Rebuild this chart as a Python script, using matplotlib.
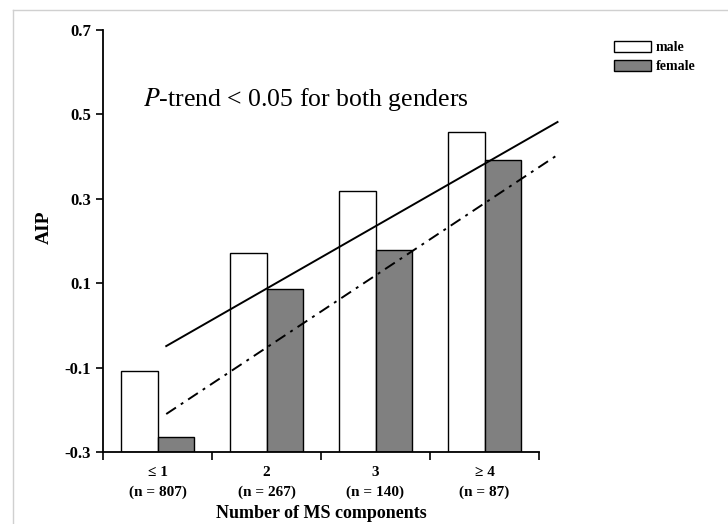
import numpy as np
import matplotlib.pyplot as plt
from matplotlib.lines import Line2D

# data
categories = ['\u2264 1\n(n = 807)', '2\n(n = 267)', '3\n(n = 140)', '\u2265 4\n(n = 87)']
male = [-0.108, 0.172, 0.318, 0.458]
female = [-0.265, 0.086, 0.179, 0.392]
# trend lines: x in category units, y in AIP
trend_x = [0.08, 3.67]
trend_male = [-0.049, 0.482]
trend_female = [-0.210, 0.404]
yticks = [-0.3, -0.1, 0.1, 0.3, 0.5, 0.7]

plt.rcParams['font.family'] = ['Liberation Serif', 'DejaVu Serif']

fig = plt.figure(figsize=(7.28, 5.24), dpi=100)
ax = fig.add_axes([103/728, 1-452/524, 436/728, 422/524])

x = np.arange(len(categories))
w = 0.335
ax.bar(x - w/2, [v + 0.3 for v in male], w, bottom=-0.3, color='white',
       edgecolor='black', linewidth=1.0, label='male')
ax.bar(x + w/2, [v + 0.3 for v in female], w, bottom=-0.3, color='#808080',
       edgecolor='black', linewidth=1.0, label='female')

ax.plot(trend_x, trend_male, color='black', lw=1.4, clip_on=False)
ax.plot(trend_x, trend_female, color='black', lw=1.4, linestyle=(0, (6, 3, 1.5, 3)),
        clip_on=False)

ax.set_xlim(-0.5, 3.5)
ax.set_ylim(-0.3, 0.7)
ax.set_yticks(yticks)
ax.set_yticklabels(['%.1f' % t for t in yticks], fontweight='bold', fontsize=12)
ax.set_xticks(x)
ax.set_xticklabels(categories, fontweight='bold', fontsize=11, linespacing=1.65)
ax.set_xticks(np.arange(-0.5, 4, 1), minor=True)
ax.tick_params(axis='x', which='major', length=0, pad=10)
ax.tick_params(axis='x', which='minor', length=6, width=1.2, direction='out')
ax.tick_params(axis='y', length=5, width=1.2, direction='out')

for s in ['top', 'right']:
    ax.spines[s].set_visible(False)
for s in ['left', 'bottom']:
    ax.spines[s].set_linewidth(1.3)
ax.spines['bottom'].set_bounds(-0.5, 3.5)

ax.set_ylabel('AIP', fontweight='bold', fontsize=14)
ax.yaxis.set_label_coords(-0.115, 0.533)
ax.set_xlabel('Number of MS components', fontweight='bold', fontsize=13, labelpad=4)

ax.text(0.092, 0.835, r'$\it{P}$-trend < 0.05 for both genders', transform=ax.transAxes,
        fontsize=18.5, ha='left', va='center', math_fontfamily='stix')

ax.legend(loc='upper left', bbox_to_anchor=(607/728, 1-34/524), bbox_transform=fig.transFigure,
          frameon=False, prop={'weight': 'bold', 'size': 10}, handlelength=2.7,
          handleheight=0.8, handletextpad=0.3, labelspacing=0.45, borderpad=0)

# faint frame of the original image
fig.add_artist(Line2D([13/728, 1], [1-10/524, 1-10/524], color='#d0d0d0', lw=1))
fig.add_artist(Line2D([13/728, 13/728], [0, 1-10/524], color='#d0d0d0', lw=1))

fig.savefig('out.png', dpi=100)
